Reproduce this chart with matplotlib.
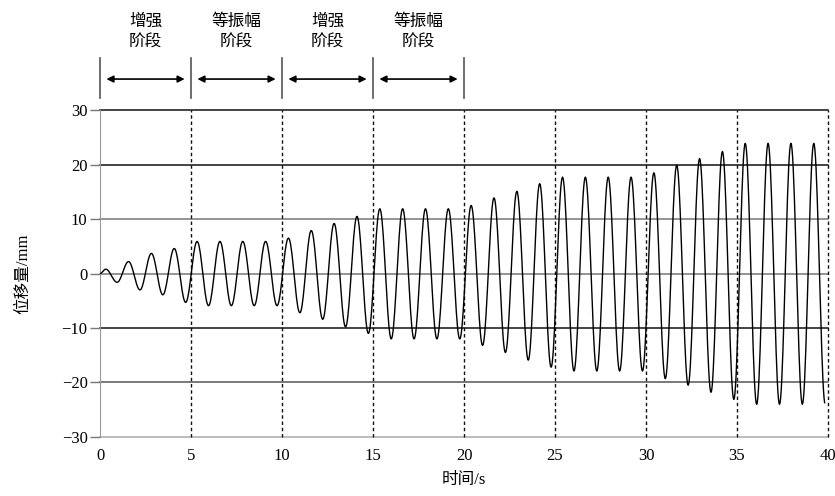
import numpy as np
import matplotlib.pyplot as plt

plt.rcParams['font.family'] = ['Liberation Serif', 'Noto Sans CJK SC']

# peak / trough values read per cycle (mm)
peaks = [0.8, 2.2, 3.7, 4.6, 5.9, 5.9, 5.9, 5.9,
         6.5, 7.9, 9.2, 10.5, 11.9, 11.9, 11.9, 11.9,
         12.5, 13.9, 15.1, 16.5, 17.7, 17.7, 17.7, 17.7,
         18.5, 19.9, 21.1, 22.4, 23.9, 23.9, 23.9, 23.9]
troughs = [-1.6, -3.0, -3.9, -5.3, -5.9, -5.9, -5.9, -5.9,
           -7.2, -8.4, -9.8, -11.0, -12.0, -12.0, -12.0, -12.0,
           -13.2, -14.5, -15.9, -17.2, -17.9, -17.9, -17.9, -17.9,
           -19.3, -20.5, -21.8, -23.1, -24.0, -24.0, -24.0, -24.0]
period = 1.255

stage_edges = [0, 5, 10, 15, 20]
stage_labels = ['增强\n阶段', '等振幅\n阶段', '增强\n阶段', '等振幅\n阶段']
yticks = [30, 20, 10, 0, -10, -20, -30]
yticklabels = ['30', '20', '10', '0', '−10', '−20', '−30']
xticks = [0, 5, 10, 15, 20, 25, 30, 35, 40]

# build the wave: half-cosine between successive extremes
ext_t = [0.0]
ext_y = [0.0]
for k in range(len(peaks)):
    ext_t += [period / 4 + k * period, 3 * period / 4 + k * period]
    ext_y += [peaks[k], troughs[k]]
t_all, y_all = [], []
for i in range(len(ext_t) - 1):
    s = np.linspace(0, 1, 20, endpoint=False)
    t_all.append(ext_t[i] + (ext_t[i + 1] - ext_t[i]) * s)
    y_all.append(ext_y[i] + (ext_y[i + 1] - ext_y[i]) * (1 - np.cos(np.pi * s)) / 2)
t = np.concatenate(t_all)
y = np.concatenate(y_all)
mask = t <= 40
t, y = t[mask], y[mask]

fig = plt.figure(figsize=(8.35, 4.96), dpi=100)
ax = fig.add_axes([0.1198, 0.119, 0.8718, 0.659])

# horizontal reference lines
hcol = {30: '#111111', 20: '#111111', 10: '#777777', 0: '#777777',
        -10: '#111111', -20: '#555555', -30: '#aaaaaa'}
for v in yticks:
    ax.axhline(v, color=hcol[v], lw=1.1, zorder=1, clip_on=False)
for v in xticks[1:]:
    ax.axvline(v, color='#111111', lw=1.0, ls=(0, (2.5, 2)), zorder=1, clip_on=False)

ax.plot(t, y, color='black', lw=1.0, zorder=3)

ax.set_xlim(0, 40)
ax.set_ylim(-30, 30)
ax.set_xticks(xticks)
ax.set_yticks(yticks)
ax.set_yticklabels(yticklabels)
ax.tick_params(axis='y', length=7, width=1.0, color='#777777', labelsize=12, pad=2)
ax.tick_params(axis='x', length=0, labelsize=12, pad=8)
for side in ['top', 'right', 'bottom']:
    ax.spines[side].set_visible(False)
ax.spines['left'].set_color('#999999')

ax.set_xlabel('时间/s', fontsize=12, labelpad=6)
ax.set_ylabel('位移量/mm', fontsize=12, labelpad=22)

# stage annotations above the plot
trans = ax.get_xaxis_transform()
for x in stage_edges:
    ax.plot([x, x], [1.037, 1.159], transform=trans, color='#555555', lw=1.2, clip_on=False)
for i, lab in enumerate(stage_labels):
    a, b = stage_edges[i], stage_edges[i + 1]
    ax.annotate('', xy=(a + 0.35, 1.095), xytext=(b - 0.35, 1.095), xycoords=trans,
                textcoords=trans,
                arrowprops=dict(arrowstyle='<|-|>', color='black', lw=1.2,
                                mutation_scale=10, shrinkA=0, shrinkB=0))
    ax.text((a + b) / 2, 1.24, lab, transform=trans, ha='center', va='center',
            fontsize=12, linespacing=1.25, family=['Noto Sans CJK SC'])

fig.savefig('out.png', dpi=100)
